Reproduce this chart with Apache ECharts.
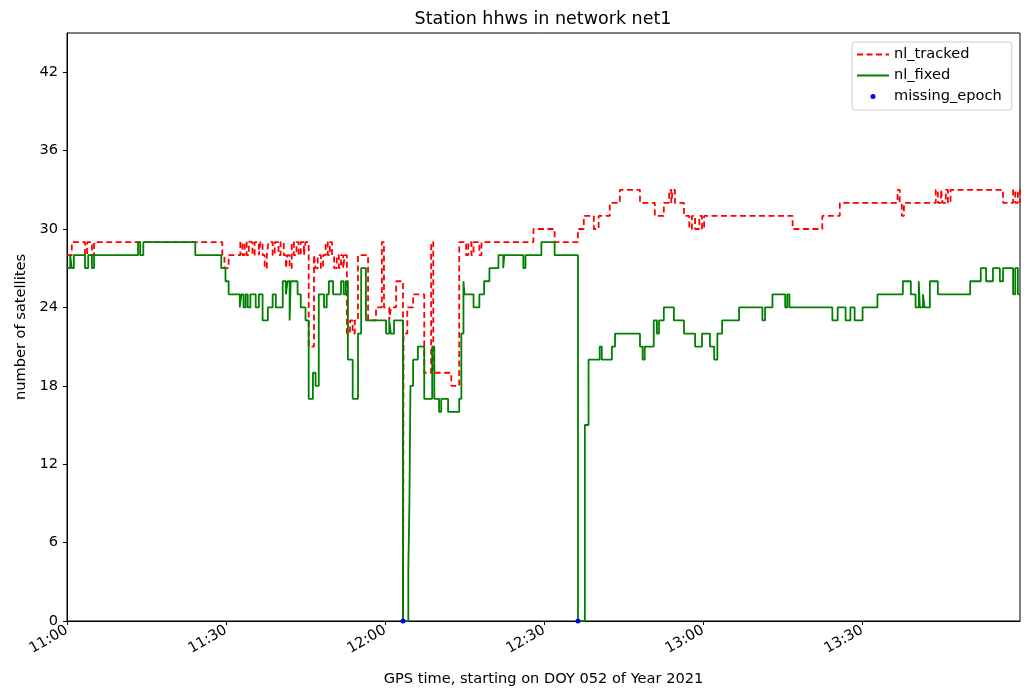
<!DOCTYPE html>
<html>
<head>
<meta charset="utf-8">
<script src="https://cdn.jsdelivr.net/npm/echarts@6/dist/echarts.min.js"></script>
<style>
  html, body { margin: 0; padding: 0; background: #fff; }
  #chart { width: 1029px; height: 692px; }
</style>
</head>
<body>
<div id="chart"></div>
<script>
// Satellite counts for station hhws. Times are minutes after 11:00 GPS time;
// each count holds from its minute until the next change.
const trackedMinutes = [
  0, 0.9, 3.4, 3.8, 4.7, 5.1, 29.3, 29.7, 30.5, 32.7, 33.1, 33.5, 33.9, 34.3, 35.0, 35.4,
  36.2, 36.5, 36.9, 37.3, 37.7, 38.0, 38.8, 39.2, 39.9, 40.3, 40.9, 41.3, 41.6, 42.0, 42.4,
  42.8, 43.3, 43.7, 44.1, 44.7, 45.0, 45.6, 46.6, 46.9, 47.3, 47.9, 48.3, 48.8, 49.2, 49.6,
  50.0, 50.4, 50.9, 51.3, 51.7, 52.1, 52.4, 52.8, 53.4, 53.9, 54.3, 54.9, 56.8, 58.3, 59.4,
  59.8, 60.8, 61.1, 62.1, 63.4, 63.5, 64.2, 65.3, 67.4, 68.7, 69.1, 72.5, 74.0, 75.3, 75.7,
  76.3, 76.7, 77.8, 78.2, 88.0, 92.0, 96.4, 97.5, 99.4, 100.3, 102.4, 104.3,
  108.1, 110.9, 112.6, 113.6, 114.0, 114.3, 114.7, 116.4, 117.4, 117.9, 118.5, 119.3, 119.8,
  120.2, 136.9, 142.5, 145.8, 156.7, 157.1, 157.5, 157.9, 163.9, 164.3, 164.9, 165.2, 165.8,
  166.2, 166.7, 176.6, 178.5, 178.9, 179.4, 179.8
];
const trackedCounts = [
  28, 29, 28, 29, 28, 29, 28, 27, 28, 29, 28, 29, 28, 29, 28, 29,
  28, 29, 28, 27, 28, 29, 28, 29, 28, 29, 28, 27, 28, 27, 29,
  28, 29, 28, 29, 28, 29, 21, 28, 27, 28, 27, 28, 29, 28, 29,
  28, 27, 28, 27, 28, 27, 28, 22, 23, 22, 23, 28, 23, 24, 29,
  24, 23, 24, 26, 0, 22, 24, 25, 19, 29, 19, 18, 29, 28, 29,
  28, 29, 28, 29, 30, 29, 30, 31, 30, 31, 32, 33,
  32, 31, 32, 33, 32, 33, 32, 31, 30, 31, 30, 31, 30,
  31, 30, 31, 32, 33, 32, 31, 32, 33, 32, 33, 32, 33,
  32, 33, 32, 33, 32, 33, 32
];

const fixedMinutes = [
  0, 0.6, 0.9, 1.3, 3.4, 4.0, 4.7, 5.1, 13.4, 13.8, 14.4, 24.2, 29.1, 29.9, 30.5, 32.6,
  32.9, 33.3, 33.7, 34.1, 34.6, 35.6, 36.2, 36.9, 37.9, 38.8, 39.4, 40.7, 41.3, 41.6, 42.0,
  42.2, 43.5, 44.1, 45.0, 45.6, 46.4, 46.9, 47.5, 48.5, 49.0, 49.4, 50.2, 51.7, 52.2, 52.6,
  53.0, 53.9, 54.9, 55.5, 56.4, 60.2, 60.8, 61.1, 61.7, 63.4, 64.4, 64.6, 64.8, 65.3, 66.2,
  67.4, 68.9, 69.3, 70.2, 70.6, 71.9, 74.0, 74.4, 74.8, 75.0, 76.7, 77.8, 78.7, 79.7, 81.4,
  82.3, 82.5, 86.1, 86.5, 89.5, 92.0, 96.4, 97.7, 98.4, 100.5, 100.9, 102.8, 103.4, 108.1,
  108.6, 109.0, 110.7, 111.3, 111.7, 112.6, 114.5, 116.4, 118.5, 119.8, 121.3, 122.1, 122.7,
  123.6, 126.8, 131.2, 131.7, 133.1, 135.5, 135.9, 136.3, 144.4, 145.4, 146.9, 147.8, 148.6,
  150.1, 152.9, 157.7, 159.2, 160.1, 160.7, 160.9, 161.5, 161.8, 162.8, 164.3, 170.4, 172.4,
  173.4, 174.7, 176.0, 176.6, 178.5, 178.9, 179.4, 179.8
];
const fixedCounts = [
  27, 28, 27, 28, 27, 28, 27, 28, 29, 28, 29, 28, 27, 26, 25, 24,
  25, 24, 25, 24, 25, 24, 25, 23, 24, 25, 24, 26, 25, 26, 23,
  26, 25, 24, 23, 17, 19, 18, 25, 24, 25, 26, 25, 26, 25, 26,
  20, 17, 22, 27, 23, 22, 23, 22, 23, 0, 4, 9, 18, 20, 21,
  17, 21, 17, 16, 17, 16, 17, 22, 26, 25, 24, 25, 26, 27, 28,
  27, 28, 27, 28, 29, 28, 0, 15, 20, 21, 20, 21, 22, 21,
  20, 21, 23, 22, 23, 24, 23, 22, 21, 22, 21, 20, 22,
  23, 24, 23, 24, 25, 24, 25, 24, 23, 24, 23, 24, 23,
  24, 25, 26, 25, 24, 26, 24, 25, 24, 26, 25, 26, 27,
  26, 27, 26, 27, 25, 27, 25, 25
];

// Epochs with no solution
const missingMinutes = [63.4, 96.4];
const missingCounts = [0, 0];

const xTickMinutes = [0, 30, 60, 90, 120, 150];
const yTickValues = [0, 6, 12, 18, 24, 30, 36, 42];
const startHour = 11;
const xEnd = 179.8;
const yEnd = 45;

function pairs(xs, ys) {
  return xs.map((x, i) => [x, ys[i]]);
}
function clock(m) {
  const h = startHour + Math.floor(m / 60);
  const mm = Math.round(m % 60);
  return String(h).padStart(2, '0') + ':' + String(mm).padStart(2, '0');
}

const font = 'DejaVu Sans, sans-serif';
const labelSize = 14.6;
const chart = echarts.init(document.getElementById('chart'));
chart.setOption({
  animation: false,
  backgroundColor: '#fff',
  title: {
    text: 'Station hhws in network net1',
    left: 543,
    top: 10,
    padding: 0,
    textAlign: 'center',
    textStyle: { fontFamily: font, fontSize: 17.5, fontWeight: 'normal', color: '#000' }
  },
  grid: {
    left: 67, right: 9, top: 33, bottom: 69,
    show: true, borderColor: '#000', borderWidth: 1, backgroundColor: 'transparent'
  },
  legend: {
    data: [
      { name: 'nl_tracked', itemStyle: { opacity: 0 } },
      { name: 'nl_fixed', itemStyle: { opacity: 0 } },
      { name: 'missing_epoch' }
    ],
    orient: 'vertical',
    left: 852, top: 42,
    itemWidth: 32, itemHeight: 5, itemGap: 6,
    padding: [5, 10, 6, 4],
    borderColor: '#ccc', borderWidth: 1, borderRadius: 3,
    backgroundColor: '#fff',
    textStyle: { fontFamily: font, fontSize: labelSize, color: '#000' }
  },
  xAxis: {
    type: 'value',
    min: 0, max: xEnd,
    name: 'GPS time, starting on DOY 052 of Year 2021',
    nameLocation: 'middle', nameGap: 51,
    nameTextStyle: { fontFamily: font, fontSize: labelSize, color: '#000' },
    axisLine: { show: true, lineStyle: { color: '#000', width: 1 } },
    axisTick: { show: true, length: 4, customValues: xTickMinutes, lineStyle: { color: '#000' } },
    axisLabel: {
      customValues: xTickMinutes,
      rotate: 30, margin: 8,
      fontFamily: font, fontSize: labelSize, color: '#000',
      formatter: v => clock(v)
    },
    splitLine: { show: false }
  },
  yAxis: {
    type: 'value',
    min: 0, max: yEnd,
    name: 'number of satellites',
    nameLocation: 'middle', nameGap: 38,
    nameTextStyle: { fontFamily: font, fontSize: labelSize, color: '#000' },
    axisLine: { show: true, lineStyle: { color: '#000', width: 1 } },
    axisTick: { show: true, length: 4, customValues: yTickValues, lineStyle: { color: '#000' } },
    axisLabel: {
      customValues: yTickValues,
      margin: 9,
      fontFamily: font, fontSize: labelSize, color: '#000'
    },
    splitLine: { show: false }
  },
  series: [
    {
      name: 'nl_tracked',
      type: 'line',
      step: 'end',
      data: pairs(trackedMinutes, trackedCounts),
      symbol: 'none',
      color: '#ff0000',
      lineStyle: { color: '#ff0000', width: 1.8, type: [6, 3.5] },
      z: 2
    },
    {
      name: 'nl_fixed',
      type: 'line',
      step: 'end',
      data: pairs(fixedMinutes, fixedCounts),
      symbol: 'none',
      color: '#008000',
      lineStyle: { color: '#008000', width: 1.8 },
      z: 3
    },
    {
      name: 'missing_epoch',
      type: 'scatter',
      data: pairs(missingMinutes, missingCounts),
      symbol: 'circle',
      symbolSize: 5,
      clip: false,
      itemStyle: { color: '#0000ff', opacity: 1 },
      z: 4
    }
  ]
});
</script>
</body>
</html>
